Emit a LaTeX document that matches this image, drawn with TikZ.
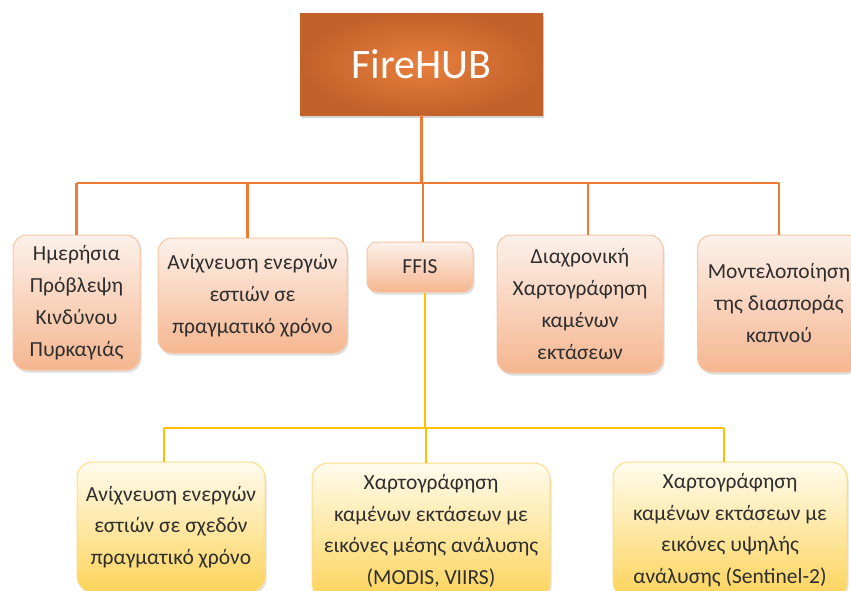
\documentclass[tikz,border=0pt]{standalone}
\usepackage{fontspec}
\setmainfont{Carlito}
\usetikzlibrary{shadows}
\definecolor{lineor}{HTML}{EE7A33}
\definecolor{lineye}{HTML}{FFC000}
\definecolor{hubin}{HTML}{E8803D}
\definecolor{hubout}{HTML}{C2612A}
\definecolor{pktop}{HTML}{FDF1EA}
\definecolor{pkbot}{HTML}{F5B690}
\definecolor{pkdraw}{HTML}{F6C5A4}
\definecolor{yetop}{HTML}{FFFCEE}
\definecolor{yebot}{HTML}{FCD35A}
\definecolor{yedraw}{HTML}{FCDC80}
\definecolor{txt}{HTML}{2E2E2E}
\tikzset{
  orline/.style={draw=lineor, line width=2.4pt},
  yeline/.style={draw=lineye, line width=2.4pt},
  topbox/.style={rectangle, rounded corners=14pt, draw=pkdraw, line width=1pt,
    top color=pktop, bottom color=pkbot, align=center, text=txt,
    font=\fontsize{21.5}{32}\selectfont, inner sep=0pt,
    drop shadow={opacity=0.25, shadow xshift=1.5pt, shadow yshift=-2.5pt}},
  botbox/.style={rectangle, rounded corners=16pt, draw=yedraw, line width=1pt,
    top color=yetop, bottom color=yebot, align=center, text=txt,
    font=\fontsize{21.5}{31.5}\selectfont, inner sep=0pt,
    drop shadow={opacity=0.25, shadow xshift=1.5pt, shadow yshift=-2.5pt}},
  hubbox/.style={rectangle, inner color=hubin, outer color=hubout, text=white,
    font=\fontsize{42}{46}\selectfont, inner sep=0pt,
    drop shadow={opacity=0.35, shadow xshift=1pt, shadow yshift=-3pt}}
}
\begin{document}
\begin{tikzpicture}[x=1pt,y=-1pt]
\useasboundingbox (0,0) rectangle (851,590);
\clip (0,0) rectangle (851,590);
% hub
\node[hubbox, minimum width=243pt, minimum height=102pt] (hub) at (421.5,64) {FireHUB};
% bus coordinates
\coordinate (bus) at (420,183);
\coordinate (ybus) at (426,428);
% top-level boxes
\node[topbox, minimum width=127pt, minimum height=135pt] (n1) at (76.5,302.5) {Ημερήσια\\Πρόβλεψη\\Κινδύνου\\Πυρκαγιάς};
\node[topbox, minimum width=189pt, minimum height=115pt] (n2) at (252.5,295.5) {Ανίχνευση ενεργών\\εστιών σε\\πραγματικό χρόνο};
\node[topbox, rounded corners=10pt, minimum width=106pt, minimum height=50pt] (ffis) at (420,267) {FFIS};
\node[topbox, minimum width=166pt, minimum height=138pt] (n4) at (580,304) {Διαχρονική\\Χαρτογράφηση\\καμένων\\εκτάσεων};
\node[topbox, minimum width=163pt, minimum height=137pt] (n5) at (779,303.5) {Μοντελοποίηση\\της διασποράς\\καπνού};
% bottom boxes
\node[botbox, minimum width=188pt, minimum height=130pt] (m1) at (171,527) {Ανίχνευση ενεργών\\εστιών σε σχεδόν\\πραγματικό χρόνο};
\node[botbox, minimum width=238pt, minimum height=136pt] (m2) at (431,531) {Χαρτογράφηση\\καμένων εκτάσεων με\\εικόνες μέσης ανάλυσης\\(MODIS, VIIRS)};
\node[botbox, minimum width=234pt, minimum height=136pt] (m3) at (730,530) {Χαρτογράφηση\\καμένων εκτάσεων με\\εικόνες υψηλής\\ανάλυσης (Sentinel-2)};
% orange connectors
\draw[orline] (hub.south) -- (hub.south |- bus);
\draw[orline, line join=round] (n1.north |- bus) -- (n5.north |- bus);
\draw[orline] (n1.north) -- (n1.north |- bus);
\draw[orline] ([xshift=-5pt]n2.north) -- ([xshift=-5pt]n2.north |- bus);
\draw[orline] ([xshift=3pt]ffis.north) -- ([xshift=3pt]ffis.north |- bus);
\draw[orline] ([xshift=8pt]n4.north) -- ([xshift=8pt]n4.north |- bus);
\draw[orline] (n5.north) -- (n5.north |- bus);
% yellow connectors
\draw[yeline] ([xshift=5pt]ffis.south) -- ([xshift=5pt]ffis.south |- ybus);
\draw[yeline] ([xshift=-7pt]m1.north |- ybus) -- ([xshift=-6pt]m3.north |- ybus);
\draw[yeline] ([xshift=-7pt]m1.north) -- ([xshift=-7pt]m1.north |- ybus);
\draw[yeline] ([xshift=-5pt]m2.north) -- ([xshift=-5pt]m2.north |- ybus);
\draw[yeline] ([xshift=-6pt]m3.north) -- ([xshift=-6pt]m3.north |- ybus);
\end{tikzpicture}
\end{document}
